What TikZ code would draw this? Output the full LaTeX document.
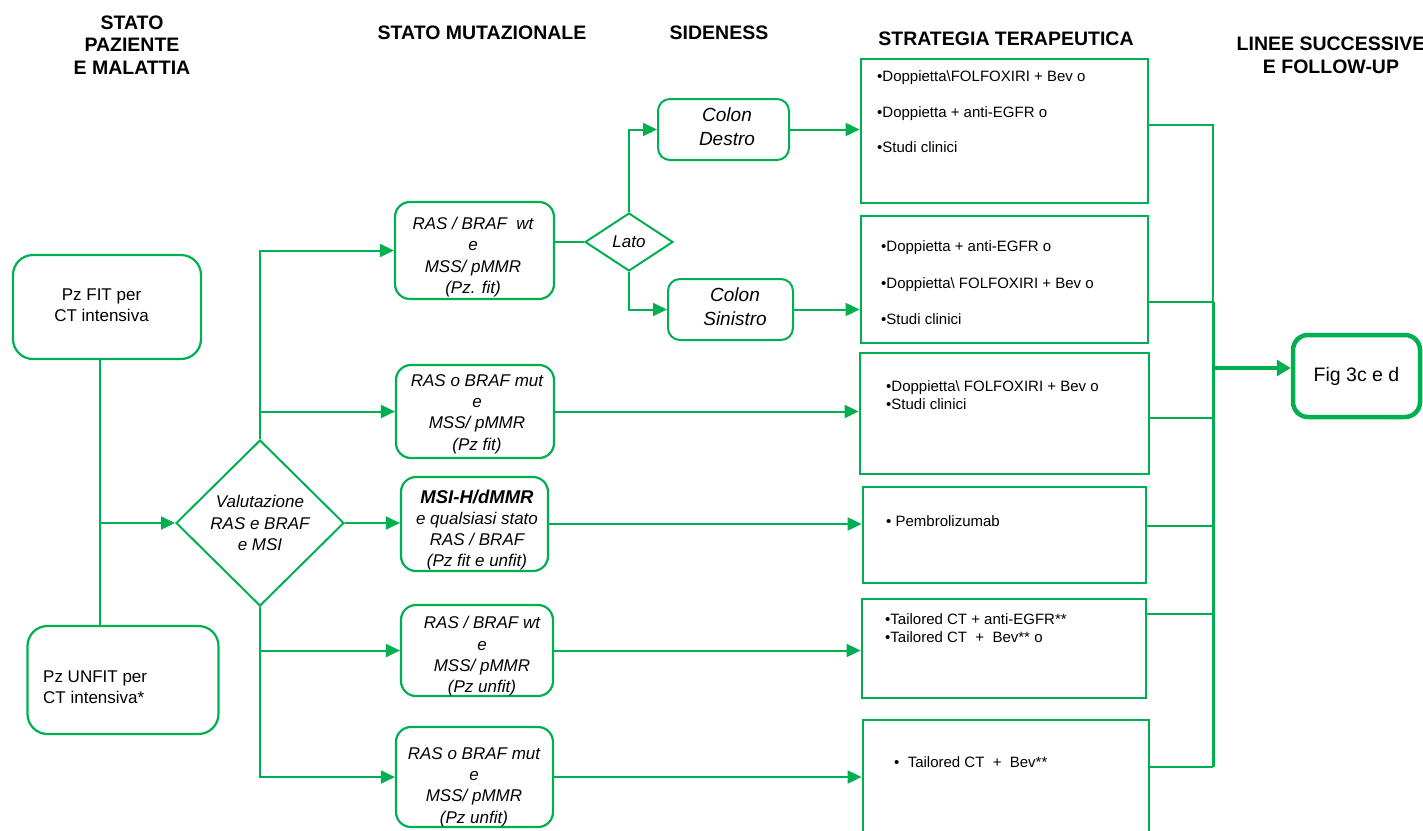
\documentclass[tikz,border=0pt]{standalone}
\usepackage{fontspec}
\setmainfont{Liberation Sans}
\usetikzlibrary{arrows.meta,shapes.geometric}
\definecolor{grn}{RGB}{0,176,80}
\begin{document}
\begin{tikzpicture}[x=1pt,y=-1pt,
  hdr/.style={font=\fontsize{19.5}{22.8}\selectfont\bfseries, align=center, inner sep=0},
  rbox/.style={draw=grn, line width=2.2pt, rounded corners=#1, inner sep=0},
  rbox/.default=15pt,
  sbox/.style={draw=grn, line width=2.8pt, inner sep=0},
  dbox/.style={draw=grn, line width=2pt, diamond, inner sep=0, aspect=1},
  mtext/.style={font=\fontsize{17}{21.3}\selectfont\itshape, align=center, inner sep=0},
  ptext/.style={font=\fontsize{17}{21}\selectfont, inner sep=0},
  ctext/.style={font=\fontsize{19}{23.5}\selectfont\itshape, align=center, inner sep=0},
  stext/.style={font=\fontsize{15}{#1}\selectfont, align=left, anchor=north west, inner sep=0},
  stext/.default=18,
  conn/.style={draw=grn, line width=2pt},
  arr/.style={conn, -{Triangle[length=14pt,width=13pt]}},
  figarr/.style={draw=grn, line width=4.5pt, -{Triangle[length=14pt,width=16pt]}},
]
\useasboundingbox (0,0) rectangle (1423,830);
\clip (0,0) rectangle (1423,830);

% column headings
\node[hdr] (h1) at (132,45) {STATO\\PAZIENTE\\E MALATTIA};
\node[hdr] (h2) at (482,33) {STATO MUTAZIONALE};
\node[hdr] (h3) at (719,33) {SIDENESS};
\node[hdr] (h4) at (1006,39) {STRATEGIA TERAPEUTICA};
\node[hdr] (h5) at (1331,55.5) {LINEE SUCCESSIVE\\E FOLLOW-UP};

% patient status
\node[rbox=20pt, minimum width=188pt, minimum height=104pt] (fit) at (107,307) {};
\node[ptext, align=center] (fitt) at (101.5,305) {Pz FIT per\\CT intensiva};
\node[rbox=20pt, minimum width=191pt, minimum height=108pt] (unfit) at (123,680) {};
\node[ptext, align=left, anchor=west] (unfitt) at (43,687) {Pz UNFIT per\\CT intensiva*};

% assessment diamond
\node[dbox, minimum width=168pt, minimum height=166pt, mtext] (D) at (260,523) {Valutazione\\RAS e BRAF\\e MSI};

% mutational status boxes
\node[rbox, minimum width=159pt, minimum height=97pt] (m1) at (474.5,250.5) {};
\node[mtext] (m1t) at (473,257) {RAS / BRAF\ \ wt\\e\\MSS/ pMMR\\(Pz. fit)};
\node[rbox, minimum width=158pt, minimum height=93pt] (m2) at (475,411.5) {};
\node[mtext] (m2t) at (477,414) {RAS o BRAF mut\\e\\MSS/ pMMR\\(Pz fit)};
\node[rbox, minimum width=147pt, minimum height=94pt] (m3) at (474.5,524) {};
\node[mtext] (m3t) at (477,530) {{\fontsize{18.5}{21.3}\selectfont\bfseries MSI-H/dMMR}\\e qualsiasi stato\\RAS / BRAF\\(Pz fit e unfit)};
\node[rbox, minimum width=152pt, minimum height=91pt] (m4) at (477,650.5) {};
\node[mtext] (m4t) at (482,656.5) {RAS / BRAF wt\\e\\MSS/ pMMR\\(Pz unfit)};
\node[rbox, minimum width=157pt, minimum height=100pt] (m5) at (474.5,777) {};
\node[mtext] (m5t) at (474,787) {RAS o BRAF mut\\e\\MSS/ pMMR\\(Pz unfit)};

% sidedness
\node[dbox, minimum width=88pt, minimum height=58pt, mtext] (L) at (629,242) {Lato};
\node[rbox=12pt, line width=2pt, minimum width=131pt, minimum height=61pt] (cd) at (723.5,129.5) {};
\node[ctext] (cdt) at (727,126.5) {Colon\\Destro};
\node[rbox=12pt, line width=2pt, minimum width=125pt, minimum height=61pt] (cs) at (730.5,309.5) {};
\node[ctext] (cst) at (735,306.5) {Colon\\Sinistro};

% therapeutic strategy boxes
\node[sbox, minimum width=287pt, minimum height=144pt] (S1) at (1004.5,131) {};
\node[stext=35.5] (s1t) at (877,70.5) {•Doppietta\textbackslash FOLFOXIRI + Bev o\\•Doppietta + anti-EGFR o\\•Studi clinici};
\node[sbox, minimum width=287pt, minimum height=127pt] (S2) at (1004.5,279.5) {};
\node[stext=36.5] (s2t) at (881,240.5) {•Doppietta + anti-EGFR o\\•Doppietta\textbackslash\ FOLFOXIRI + Bev o\\•Studi clinici};
\node[sbox, minimum width=289pt, minimum height=121pt] (S3) at (1004.5,413.5) {};
\node[stext] (s3t) at (886,380.5) {•Doppietta\textbackslash\ FOLFOXIRI + Bev o\\•Studi clinici};
\node[sbox, minimum width=283pt, minimum height=96pt] (S4) at (1004.5,535) {};
\node[stext] (s4t) at (886,515.5) {• Pembrolizumab};
\node[sbox, minimum width=284pt, minimum height=99pt] (S5) at (1004,648.5) {};
\node[stext] (s5t) at (885,613.5) {•Tailored CT + anti-EGFR**\\•Tailored CT\ \ +\ \ Bev** o};
\node[sbox, minimum width=286pt, minimum height=200pt] (S6) at (1006,820) {};
\node[stext] (s6t) at (894,756.5) {•\ \ Tailored CT\ \ +\ \ Bev**};

% follow-up
\node[rbox=15pt, line width=4.5pt, minimum width=127pt, minimum height=82pt,
      font=\fontsize{19.5}{23}\selectfont] (fig) at (1356.5,376) {Fig 3c e d};

% connectors: patient status to assessment
\draw[conn] (fit.south -| 100,0) -- (unfit.north -| 100,0);
\draw[arr] (D.west -| 100,0) -- (D.west);

% assessment to mutational status
\draw[arr] (D.north) |- (m1.west);
\draw[arr] (D.north |- m2.west) -- (m2.west);
\draw[arr] (D.east) -- (m3.west |- D.east);
\draw[arr] (D.south |- m4.west) -- (m4.west);
\draw[arr] (D.south) |- (m5.west);

% sidedness branch
\draw[conn] (m1.east |- L.west) -- (L.west);
\draw[arr] (L.north) |- (cd.west);
\draw[arr] (L.south) |- (cs.west);
\draw[arr] (cd.east) -- (S1.west |- cd.east);
\draw[arr] (cs.east) -- (S2.west |- cs.east);

% mutational status to strategy
\draw[arr] (m2.east) -- (S3.west |- m2.east);
\draw[arr] (m3.east) -- (S4.west |- m3.east);
\draw[arr] (m4.east) -- (S5.west |- m4.east);
\draw[arr] (m5.east) -- (S6.west |- m5.east);

% collecting bus to follow-up
\coordinate (busTop) at (1213,125);
\coordinate (busMid) at (1213,302);
\coordinate (busBot) at (1213,767);
\draw[conn] (S1.east |- busTop) -- (busTop) -- (busMid);
\draw[conn, line width=3pt] (busMid) -- (busBot);
\draw[conn] (S2.east |- busMid) -- (busMid);
\draw[conn] (S3.east |- 0,418) -- (busTop |- 0,418);
\draw[conn] (S4.east |- 0,526) -- (busTop |- 0,526);
\draw[conn] (S5.east |- 0,614) -- (busTop |- 0,614);
\draw[conn] (S6.east |- busBot) -- (busBot);
\draw[figarr] (busTop |- 0,368) -- (fig.west |- 0,368);
\end{tikzpicture}
\end{document}
